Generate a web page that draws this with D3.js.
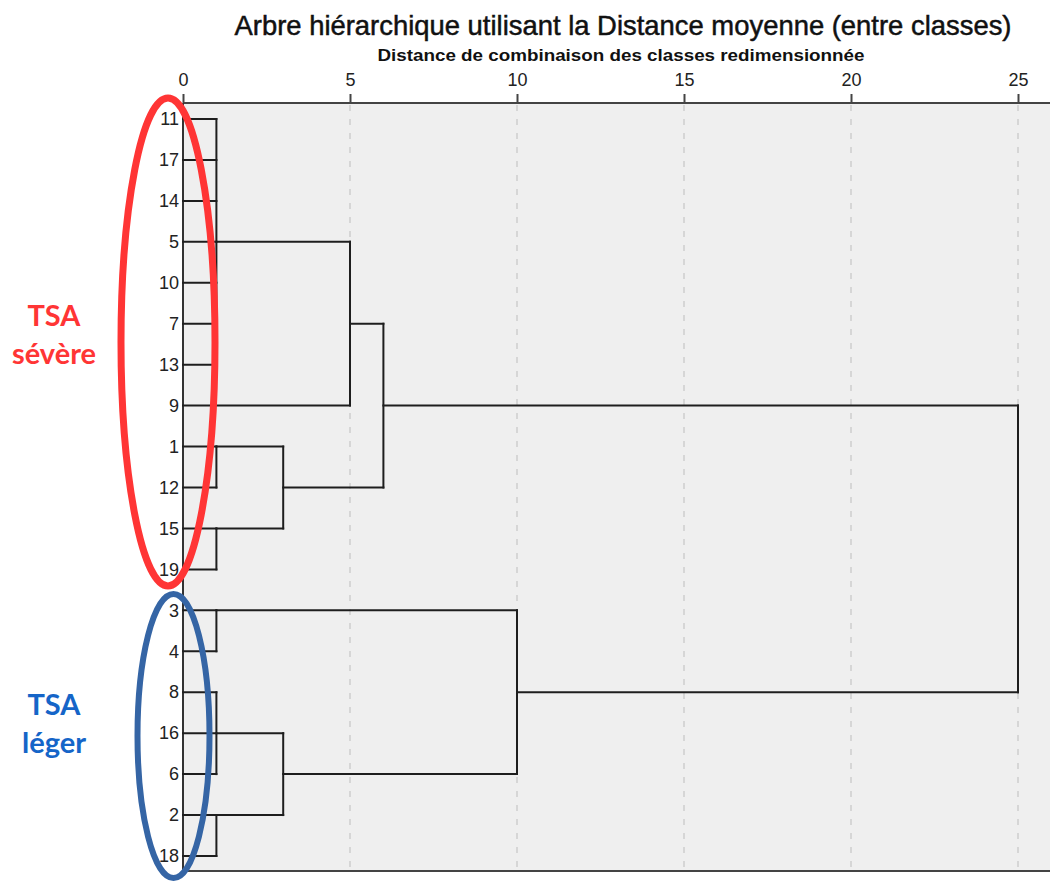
<!DOCTYPE html>
<html>
<head>
<meta charset="utf-8">
<script src="https://cdn.jsdelivr.net/npm/d3@7"></script>
<style>
  body { margin: 0; background: #fff; }
  svg { display: block; }
</style>
</head>
<body>
<svg id="chart" width="1050" height="882"></svg>
<script>
// leaf order top to bottom (SPSS dendrogram)
const leaves = ["11", "17", "14", "5", "10", "7", "13", "9", "1", "12", "15", "19",
                "3", "4", "8", "16", "6", "2", "18"];

// merges: id, members, rescaled distance
const mergeIds = ["c1", "c2", "c3", "c4", "c5", "c6", "c7", "c8", "c9", "c10", "c11", "c12"];
const mergeChildren = [
    ["11", "17", "14", "5", "10", "7", "13"],
    ["c1", "9"],
    ["1", "12"],
    ["15", "19"],
    ["c3", "c4"],
    ["c2", "c5"],
    ["3", "4"],
    ["8", "16", "6"],
    ["2", "18"],
    ["c8", "c9"],
    ["c7", "c10"],
    ["c6", "c11"]
];
const mergeDist = [1, 5, 1, 1, 3, 6, 1, 1, 1, 3, 10, 25];

const xTicks = [0, 5, 10, 15, 20, 25];

const title = "Arbre hiérarchique utilisant la Distance moyenne (entre classes)";
const subtitle = "Distance de combinaison des classes redimensionnée";

const groups = [
    { lines: ["TSA", "sévère"], color: "#ff3535", first: "11", last: "19" },
    { lines: ["TSA", "léger"], color: "#1565c8", first: "3", last: "18" }
];

const svg = d3.select('#chart');
const narrow = 'Liberation Sans Narrow, Liberation Sans, Arial, sans-serif';

const x = d3.scaleLinear().domain([0, 25]).range([183, 1018]);
const y = d3.scalePoint().domain(leaves).range([119, 856]);

const plotTop = 103, plotBottom = 871, plotRight = 1050;

// background of plot
svg.append('rect')
    .attr('x', x(0)).attr('y', plotTop)
    .attr('width', plotRight - x(0)).attr('height', plotBottom - plotTop)
    .attr('fill', '#efefef');

// dashed grid
svg.append('g').selectAll('line')
    .data(xTicks.filter(d => d > 0))
    .join('line')
    .attr('x1', d => x(d)).attr('x2', d => x(d))
    .attr('y1', plotTop + 2).attr('y2', plotBottom)
    .attr('stroke', '#d6d6d6')
    .attr('stroke-width', 2)
    .attr('stroke-dasharray', '6,8');

// titles
svg.append('text')
    .attr('x', 623).attr('y', 35)
    .attr('text-anchor', 'middle')
    .attr('font-family', 'Liberation Sans, Arial, sans-serif')
    .attr('font-size', 28)
    .attr('textLength', 777).attr('lengthAdjust', 'spacingAndGlyphs')
    .attr('fill', '#111')
    .attr('stroke', '#111').attr('stroke-width', 0.5)
    .text(title);

svg.append('text')
    .attr('x', 621).attr('y', 61)
    .attr('text-anchor', 'middle')
    .attr('font-family', 'Liberation Sans, Arial, sans-serif')
    .attr('font-weight', 'bold')
    .attr('font-size', 17)
    .attr('textLength', 487).attr('lengthAdjust', 'spacingAndGlyphs')
    .attr('fill', '#111')
    .text(subtitle);

// top axis
const xAxis = svg.append('g')
    .attr('transform', `translate(0,${plotTop})`)
    .call(d3.axisTop(x).tickValues(xTicks).tickSize(9).tickPadding(8).tickSizeOuter(0));
xAxis.select('.domain').remove();
xAxis.selectAll('.tick line').attr('stroke', '#444').attr('stroke-width', 2);
xAxis.selectAll('.tick text')
    .attr('font-family', narrow)
    .attr('font-size', 18)
    .attr('fill', '#222');

svg.append('line')
    .attr('x1', x(0)).attr('x2', plotRight)
    .attr('y1', plotTop).attr('y2', plotTop)
    .attr('stroke', '#444').attr('stroke-width', 2);

// left axis with leaf labels
const yAxis = svg.append('g')
    .attr('transform', `translate(${x(0)},0)`)
    .call(d3.axisLeft(y).tickSize(0).tickPadding(4));
yAxis.select('.domain').remove();
yAxis.selectAll('.tick text')
    .attr('font-family', narrow)
    .attr('font-size', 18)
    .attr('fill', '#222');

svg.append('line')
    .attr('x1', x(0)).attr('x2', x(0))
    .attr('y1', plotTop).attr('y2', plotBottom)
    .attr('stroke', '#333').attr('stroke-width', 2);
svg.append('line')
    .attr('x1', x(0)).attr('x2', plotRight)
    .attr('y1', plotBottom).attr('y2', plotBottom)
    .attr('stroke', '#444').attr('stroke-width', 2);

// dendrogram
const row = {}, height = {};
leaves.forEach((d, i) => { row[d] = i; height[d] = 0; });

const segs = [];
mergeIds.forEach((id, k) => {
    const kids = mergeChildren[k];
    const h = mergeDist[k];
    const r0 = row[kids[0]], r1 = row[kids[kids.length - 1]];
    kids.forEach(c => {
        segs.push([x(height[c]), y(leaves[row[c]]), x(h), y(leaves[row[c]])]);
    });
    segs.push([x(h), y(leaves[r0]), x(h), y(leaves[r1])]);
    row[id] = Math.floor((r0 + r1) / 2);
    height[id] = h;
});

svg.append('g').selectAll('line')
    .data(segs)
    .join('line')
    .attr('x1', d => d[0]).attr('y1', d => d[1])
    .attr('x2', d => d[2]).attr('y2', d => d[3])
    .attr('stroke', '#1e1e1e')
    .attr('stroke-width', 2)
    .attr('stroke-linecap', 'square');

// group ellipses and labels
const ellipses = [
    { cx: 168, cy: 342, rx: 47, ry: 244, color: '#ff3535', w: 7 },
    { cx: 173.5, cy: 736, rx: 36, ry: 142, color: '#3565a5', w: 6 }
];
svg.append('g').selectAll('ellipse')
    .data(ellipses)
    .join('ellipse')
    .attr('cx', d => d.cx).attr('cy', d => d.cy)
    .attr('rx', d => d.rx).attr('ry', d => d.ry)
    .attr('fill', 'none')
    .attr('stroke', d => d.color)
    .attr('stroke-width', d => d.w);

groups.forEach(g => {
    const mid = (y(g.first) + y(g.last)) / 2;
    const t = svg.append('text')
        .attr('x', 54)
        .attr('y', mid - 18)
        .attr('text-anchor', 'middle')
        .attr('font-family', 'Lato, sans-serif')
        .attr('font-weight', 'bold')
        .attr('font-size', 29)
        .attr('fill', g.color);
    g.lines.forEach((s, i) => {
        t.append('tspan').attr('x', 54).attr('dy', i === 0 ? 0 : 38).text(s);
    });
});
</script>
</body>
</html>
